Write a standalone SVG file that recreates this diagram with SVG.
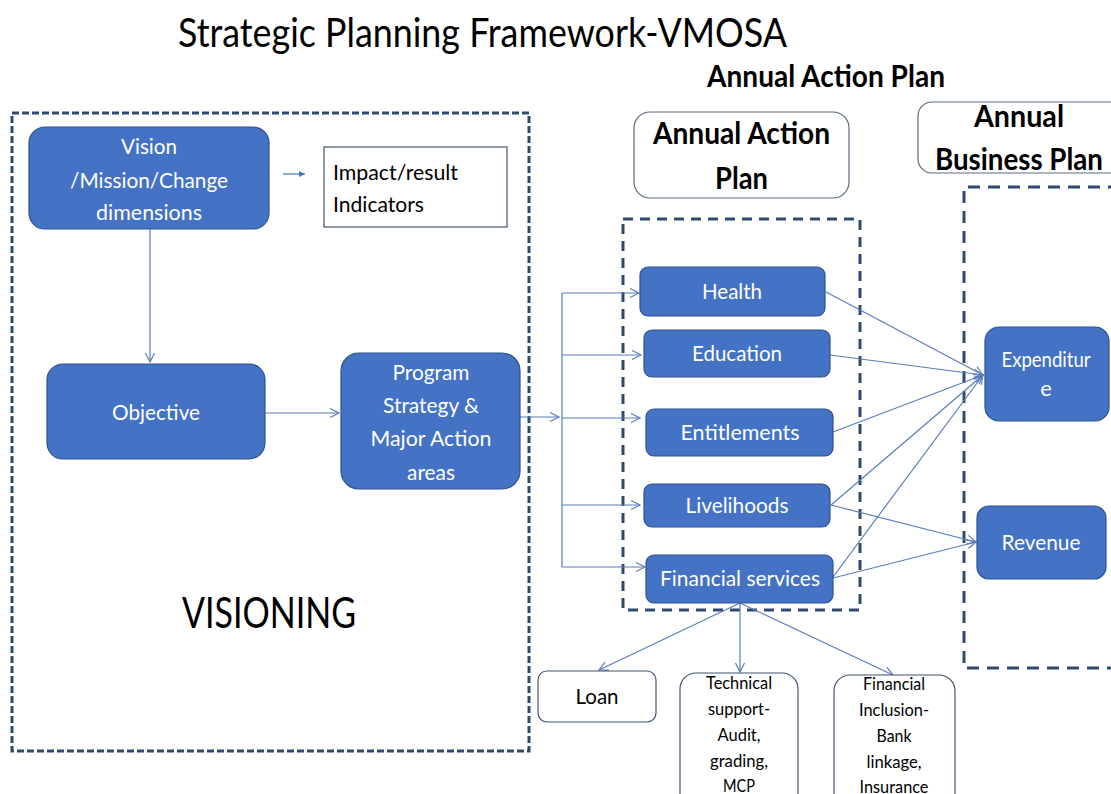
<svg xmlns="http://www.w3.org/2000/svg" width="1111" height="794" viewBox="0 0 1111 794">
  <defs>
    <style>
      text { font-family: Lato, "Open Sans", "Liberation Sans", sans-serif; }
      .title { font-size: 41px; fill: #000; }
      .head { font-size: 30px; font-weight: bold; fill: #000; }
      .blue { fill: #4472C4; stroke: #2F528F; stroke-width: 1.2; }
      .plain { fill: #fff; stroke: #41546E; stroke-width: 1.2; }
      .wt { fill: #fff; font-size: 22px; text-anchor: middle; }
      .bt { fill: #000; font-size: 21px; }
      .sm { fill: #000; font-size: 16.5px; text-anchor: middle; }
      .frame { fill: none; stroke: #2E4A6E; stroke-width: 3; }
      .conn { fill: none; stroke: #5B7DB8; stroke-width: 1.2; }
    </style>
    <marker id="open" markerWidth="12" markerHeight="12" refX="10" refY="5" orient="auto" markerUnits="userSpaceOnUse">
      <path d="M1,0.5 L10,5 L1,9.5" fill="none" stroke="#5B7DB8" stroke-width="1.2"/>
    </marker>
    <marker id="solid" markerWidth="8" markerHeight="8" refX="6" refY="3" orient="auto" markerUnits="userSpaceOnUse">
      <path d="M0,0 L6,3 L0,6 Z" fill="#4472C4"/>
    </marker>
  </defs>

  <rect width="1111" height="794" fill="#fff"/>

  <!-- headings -->
  <text class="title" x="178" y="47" textLength="609" lengthAdjust="spacingAndGlyphs">Strategic Planning Framework-VMOSA</text>
  <text class="head" x="707" y="87" textLength="238" lengthAdjust="spacingAndGlyphs">Annual Action Plan</text>

  <!-- dashed group frames -->
  <g id="frames">
    <rect class="frame" x="12" y="113" width="517" height="638" stroke-dasharray="7 3" stroke-width="2.6"/>
    <rect class="frame" x="623" y="219" width="237" height="391" stroke-dasharray="10 7"/>
    <path class="frame" d="M1120,187 H964 V668 H1120" stroke-dasharray="12 8"/>
  </g>

  <text id="visioning" x="182" y="628" font-size="42" fill="#000" textLength="174" lengthAdjust="spacingAndGlyphs">VISIONING</text>

  <!-- connectors -->
  <g id="connectors">
    <path class="conn" d="M150,229 V362" marker-end="url(#open)"/>
    <path d="M283,174 H305" stroke="#4472C4" stroke-width="1.2" marker-end="url(#solid)"/>
    <path class="conn" d="M265,413 H339" marker-end="url(#open)"/>
    <path class="conn" d="M520,417 H559" marker-end="url(#open)"/>
    <path class="conn" d="M562,293 V567"/>
    <path class="conn" d="M562,293 H639" marker-end="url(#open)"/>
    <path class="conn" d="M562,355 H641" marker-end="url(#open)"/>
    <path class="conn" d="M562,418 H640" marker-end="url(#open)"/>
    <path class="conn" d="M562,505 H640" marker-end="url(#open)"/>
    <path class="conn" d="M562,567 H645" marker-end="url(#open)"/>
    <path class="conn" d="M826,292 L983,375" marker-end="url(#open)"/>
    <path class="conn" d="M830,355 L983,375" marker-end="url(#open)"/>
    <path class="conn" d="M833,432 L983,375" marker-end="url(#open)"/>
    <path class="conn" d="M831,505 L983,375" marker-end="url(#open)"/>
    <path class="conn" d="M833,577 L983,375" marker-end="url(#open)"/>
    <path class="conn" d="M831,505 L976,542" marker-end="url(#open)"/>
    <path class="conn" d="M833,578 L976,542" marker-end="url(#open)"/>
    <path class="conn" d="M740,603 L599,670" marker-end="url(#open)"/>
    <path class="conn" d="M740,603 V672" marker-end="url(#open)"/>
    <path class="conn" d="M740,603 L893,675" marker-end="url(#open)"/>
  </g>

  <!-- visioning nodes -->
  <g id="vision">
    <rect class="blue" x="29" y="127" width="240" height="102" rx="16"/>
    <text class="wt" x="149" y="154" textLength="56" lengthAdjust="spacingAndGlyphs">Vision</text>
    <text class="wt" x="149" y="188" textLength="158" lengthAdjust="spacingAndGlyphs">/Mission/Change</text>
    <text class="wt" x="149" y="220" textLength="106" lengthAdjust="spacingAndGlyphs">dimensions</text>
  </g>
  <g id="impact">
    <rect class="plain" x="324" y="147" width="183" height="80"/>
    <text class="bt" x="333" y="180" textLength="125" lengthAdjust="spacingAndGlyphs">Impact/result</text>
    <text class="bt" x="333" y="212" textLength="91" lengthAdjust="spacingAndGlyphs">Indicators</text>
  </g>
  <g id="objective">
    <rect class="blue" x="47" y="364" width="218" height="95" rx="16"/>
    <text class="wt" x="156" y="420" textLength="88" lengthAdjust="spacingAndGlyphs">Objective</text>
  </g>
  <g id="program">
    <rect class="blue" x="341" y="353" width="179" height="136" rx="18"/>
    <text class="wt" x="431" y="380" textLength="77" lengthAdjust="spacingAndGlyphs">Program</text>
    <text class="wt" x="431" y="413" textLength="96" lengthAdjust="spacingAndGlyphs">Strategy &amp;</text>
    <text class="wt" x="431" y="446" textLength="121" lengthAdjust="spacingAndGlyphs">Major Action</text>
    <text class="wt" x="431" y="480" textLength="48" lengthAdjust="spacingAndGlyphs">areas</text>
  </g>

  <!-- annual action plan -->
  <g id="aap-header">
    <rect x="634" y="112" width="215" height="86" rx="16" fill="#fff" stroke="#5A6A80" stroke-width="1.2"/>
    <text class="head" x="741.5" y="144" text-anchor="middle" textLength="177" lengthAdjust="spacingAndGlyphs">Annual Action</text>
    <text class="head" x="741.5" y="189" text-anchor="middle" textLength="53" lengthAdjust="spacingAndGlyphs">Plan</text>
  </g>
  <g id="health">
    <rect class="blue" x="640" y="267" width="185" height="49" rx="8"/>
    <text class="wt" x="732" y="299" textLength="60" lengthAdjust="spacingAndGlyphs">Health</text>
  </g>
  <g id="education">
    <rect class="blue" x="644" y="330" width="186" height="47" rx="8"/>
    <text class="wt" x="737" y="361" textLength="90" lengthAdjust="spacingAndGlyphs">Education</text>
  </g>
  <g id="entitlements">
    <rect class="blue" x="646" y="409" width="187" height="47" rx="8"/>
    <text class="wt" x="740" y="440" textLength="119" lengthAdjust="spacingAndGlyphs">Entitlements</text>
  </g>
  <g id="livelihoods">
    <rect class="blue" x="644" y="484" width="186" height="43" rx="8"/>
    <text class="wt" x="737" y="513" textLength="103" lengthAdjust="spacingAndGlyphs">Livelihoods</text>
  </g>
  <g id="financial-services">
    <rect class="blue" x="646" y="555" width="187" height="48" rx="8"/>
    <text class="wt" x="740" y="586" textLength="160" lengthAdjust="spacingAndGlyphs">Financial services</text>
  </g>

  <!-- annual business plan -->
  <g id="abp-header">
    <rect x="918" y="102" width="210" height="71" rx="14" fill="#fff" stroke="#5A6A80" stroke-width="1.2"/>
    <text class="head" x="1019" y="127" text-anchor="middle" textLength="90" lengthAdjust="spacingAndGlyphs">Annual</text>
    <text class="head" x="1019" y="170" text-anchor="middle" textLength="168" lengthAdjust="spacingAndGlyphs">Business Plan</text>
  </g>
  <g id="expenditure">
    <rect class="blue" x="985" y="327" width="124" height="94" rx="14"/>
    <text class="wt" x="1046" y="367" font-size="18" textLength="89" lengthAdjust="spacingAndGlyphs">Expenditur</text>
    <text class="wt" x="1046" y="396" font-size="18">e</text>
  </g>
  <g id="revenue">
    <rect class="blue" x="977" y="506" width="129" height="73" rx="12"/>
    <text class="wt" x="1041" y="550" textLength="79" lengthAdjust="spacingAndGlyphs">Revenue</text>
  </g>

  <!-- financial services outcomes -->
  <g id="loan">
    <rect class="plain" x="538" y="671" width="118" height="51" rx="9" stroke="#6A7480"/>
    <text class="bt" x="597" y="704" font-size="22" text-anchor="middle" textLength="43" lengthAdjust="spacingAndGlyphs">Loan</text>
  </g>
  <g id="technical-support">
    <rect class="plain" x="680" y="673" width="118" height="140" rx="16" stroke="#6A7480"/>
    <text class="sm" x="739" y="689" textLength="66" lengthAdjust="spacingAndGlyphs">Technical</text>
    <text class="sm" x="739" y="715" textLength="62" lengthAdjust="spacingAndGlyphs">support-</text>
    <text class="sm" x="739" y="741" textLength="43" lengthAdjust="spacingAndGlyphs">Audit,</text>
    <text class="sm" x="739" y="767" textLength="58" lengthAdjust="spacingAndGlyphs">grading,</text>
    <text class="sm" x="739" y="792" textLength="32" lengthAdjust="spacingAndGlyphs">MCP</text>
  </g>
  <g id="financial-inclusion">
    <rect class="plain" x="834" y="675" width="121" height="140" rx="16" stroke="#6A7480"/>
    <text class="sm" x="894" y="690" textLength="62" lengthAdjust="spacingAndGlyphs">Financial</text>
    <text class="sm" x="894" y="716" textLength="70" lengthAdjust="spacingAndGlyphs">Inclusion-</text>
    <text class="sm" x="894" y="742" textLength="35" lengthAdjust="spacingAndGlyphs">Bank</text>
    <text class="sm" x="894" y="768" textLength="55" lengthAdjust="spacingAndGlyphs">linkage,</text>
    <text class="sm" x="894" y="793" textLength="69" lengthAdjust="spacingAndGlyphs">Insurance</text>
  </g>
</svg>
